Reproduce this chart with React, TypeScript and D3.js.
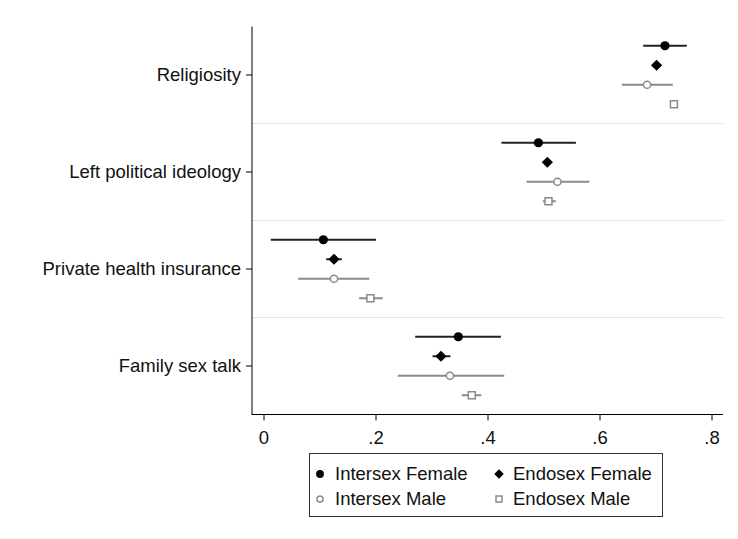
import React from "react";
import * as d3 from "d3";

const categories = ["Religiosity", "Left political ideology", "Private health insurance", "Family sex talk"];
const seriesNames = ["Intersex Female", "Endosex Female", "Intersex Male", "Endosex Male"];
// [estimate, lower, upper] per category, per series
const intersexFemale = [[0.716, 0.677, 0.755], [0.49, 0.424, 0.557], [0.106, 0.012, 0.2], [0.347, 0.27, 0.423]];
const endosexFemale = [[0.701, 0.698, 0.704], [0.506, 0.503, 0.509], [0.125, 0.111, 0.139], [0.316, 0.301, 0.333]];
const intersexMale = [[0.684, 0.639, 0.73], [0.524, 0.469, 0.581], [0.125, 0.061, 0.188], [0.332, 0.239, 0.429]];
const endosexMale = [[0.732, 0.728, 0.736], [0.508, 0.498, 0.521], [0.19, 0.17, 0.212], [0.371, 0.353, 0.388]];
const xTicks = [0, 0.2, 0.4, 0.6, 0.8];
const xTickLabels = ["0", ".2", ".4", ".6", ".8"];

const seriesData = [intersexFemale, endosexFemale, intersexMale, endosexMale];
const FONT = "'Liberation Sans', Arial, sans-serif";

function Marker({ kind, cx, cy, scale = 1 }: { kind: number; cx: number; cy: number; scale?: number }) {
  if (kind === 0) return <circle cx={cx} cy={cy} r={4.6 * scale} fill="#000" />;
  if (kind === 1) {
    const s = 5.6 * scale;
    return <path d={`M${cx},${cy - s}L${cx + s},${cy}L${cx},${cy + s}L${cx - s},${cy}Z`} fill="#000" />;
  }
  if (kind === 2) return <circle cx={cx} cy={cy} r={3.6 * scale} fill="#fff" stroke="#8a8a8a" strokeWidth={1.5} />;
  const h = 3.5 * scale;
  return <rect x={cx - h} y={cy - h} width={2 * h} height={2 * h} fill="#fff" stroke="#8a8a8a" strokeWidth={1.5} />;
}

export default function App() {
  const W = 738, H = 539;
  const left = 252, right = 723, top = 26.5, bottom = 414.5;
  const x = d3.scaleLinear().domain([-12 / 560, (right - 264) / 560]).range([left, right]);
  const y = d3.scaleBand<string>().domain(categories).range([top, bottom]);
  const sub = d3.scalePoint<string>().domain(seriesNames).range([-29.25, 29.25]);

  return (
    <svg width={W} height={H} style={{ position: "absolute", left: 0, top: 0, background: "#fff" }} fontFamily={FONT}>
      <rect width={W} height={H} fill="#fff" />
      {categories.slice(1).map((c) => (
        <line key={c} x1={left} x2={right} y1={y(c)!} y2={y(c)!} stroke="#e3e3e3" strokeWidth={1.2} />
      ))}
      <line x1={left} x2={left} y1={top} y2={bottom + 0.5} stroke="#000" strokeWidth={1} />
      <line x1={left} x2={right} y1={bottom} y2={bottom} stroke="#000" strokeWidth={1} />
      {xTicks.map((t, i) => (
        <g key={t}>
          <line x1={x(t)} x2={x(t)} y1={bottom} y2={bottom + 6} stroke="#000" />
          <text x={x(t)} y={bottom + 29} textAnchor="middle" fontSize={18.5} fill="#111">{xTickLabels[i]}</text>
        </g>
      ))}
      {categories.map((c) => {
        const cy = y(c)! + y.bandwidth() / 2;
        return (
          <g key={c}>
            <line x1={left - 6} x2={left} y1={cy} y2={cy} stroke="#000" />
            <text x={left - 11} y={cy} dy="0.35em" textAnchor="end" fontSize={18.5} fill="#111">{c}</text>
          </g>
        );
      })}
      {seriesData.map((ser, si) =>
        ser.map((v, ci) => {
          const cy = y(categories[ci])! + y.bandwidth() / 2 + sub(seriesNames[si])!;
          return (
            <g key={`${si}-${ci}`}>
              <line x1={x(v[1])} x2={x(v[2])} y1={cy} y2={cy} stroke={si < 2 ? "#222" : "#8a8a8a"} strokeWidth={2} />
              <Marker kind={si} cx={x(v[0])} cy={cy} />
            </g>
          );
        })
      )}
      <rect x={309.5} y={453.5} width={353} height={63} fill="#fff" stroke="#333" strokeWidth={1} />
      {seriesNames.map((n, i) => {
        const col = i % 2, row = Math.floor(i / 2);
        const mx = col === 0 ? 320 : 499;
        const tx = col === 0 ? 335 : 513;
        const cy = row === 0 ? 474 : 499;
        return (
          <g key={n}>
            <Marker kind={i} cx={mx} cy={cy} scale={0.85} />
            <text x={tx} y={cy} dy="0.35em" fontSize={18.5} fill="#111">{n}</text>
          </g>
        );
      })}
    </svg>
  );
}
